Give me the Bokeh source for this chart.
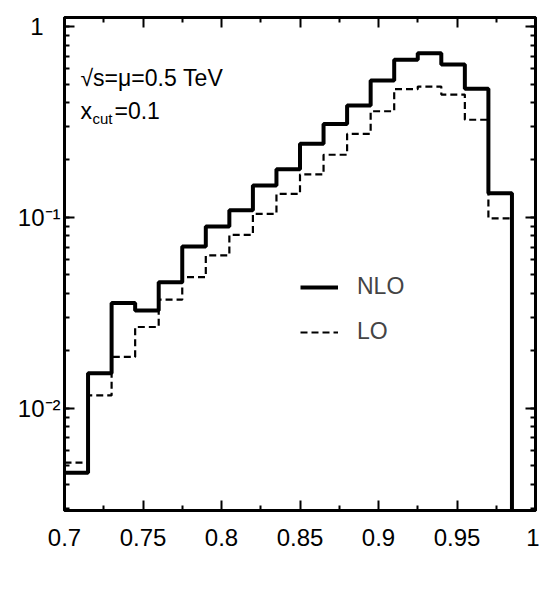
from bokeh.plotting import figure
from bokeh.models import (Range1d, FixedTicker, LogTicker, LogAxis, LinearAxis, Label,
                          Legend, LegendItem, CustomJSTickFormatter)
from bokeh.embed import file_html
from bokeh.resources import INLINE

# ---- data ----
bin_edges = [0.700, 0.715, 0.730, 0.745, 0.760, 0.775, 0.790, 0.805, 0.820, 0.835, 0.850,
             0.865, 0.880, 0.895, 0.910, 0.925, 0.940, 0.955, 0.970, 0.985, 1.000]
nlo = [0.0046, 0.0153, 0.0356, 0.0326, 0.0458, 0.0705, 0.0897, 0.109, 0.147, 0.179,
       0.243, 0.309, 0.386, 0.521, 0.670, 0.725, 0.632, 0.472, 0.134, 0.0]
lo = [0.0052, 0.0117, 0.0186, 0.0267, 0.0371, 0.0487, 0.0633, 0.0811, 0.1045, 0.133,
      0.168, 0.213, 0.274, 0.360, 0.470, 0.485, 0.440, 0.325, 0.099, 0.0]
x_ticks = [0.7, 0.75, 0.8, 0.85, 0.9, 0.95, 1.0]
x_tick_labels = ["0.7", "0.75", "0.8", "0.85", "0.9", "0.95", "1"]
x_minor = [0.725, 0.775, 0.825, 0.875, 0.925, 0.975]
X_MIN, X_MAX = 0.7, 1.0
Y_MIN, Y_MAX = 0.00292, 1.115

FONT = "Liberation Sans"
BLACK = "black"

p = figure(width=539, height=596, output_backend="svg", toolbar_location=None,
           y_axis_type="log", x_range=Range1d(X_MIN, X_MAX), y_range=Range1d(Y_MIN, Y_MAX),
           min_border_left=64, min_border_right=4, min_border_top=17, min_border_bottom=86,
           x_axis_location="below", y_axis_location="left")
p.background_fill_color = "white"
p.border_fill_color = "white"
p.grid.visible = False
p.outline_line_color = BLACK
p.outline_line_width = 3


def step_xy(edges, vals):
    floor = Y_MIN / 100.0
    ys = [v if v > 0 else floor for v in vals]
    return list(edges), ys + [ys[-1]]

xs, ys = step_xy(bin_edges, lo)
r_lo = p.step(xs, ys, mode="after", line_color=BLACK, line_width=2.2, line_dash="7 4")
xs, ys = step_xy(bin_edges, nlo)
r_nlo = p.step(xs, ys, mode="after", line_color=BLACK, line_width=4)


# ---- text annotations ----
def lab(text, x, y, size="23px"):
    l = Label(x=x, y=y, x_units="screen", y_units="screen", text=text,
              text_font=FONT, text_font_size=size, text_color=BLACK,
              text_baseline="alphabetic", text_align="left")
    p.add_layout(l)
    return l

lab("\u221as=\u03bc=0.5 TeV", 16, 433)
lab("x", 16, 400)
lab("cut", 28, 392, "15px")
lab("=0.1", 50, 400)
lab("x", 456, -78)
lab("t", 468, -88, "15px")

# ---- axes ----
xt = FixedTicker(ticks=x_ticks, minor_ticks=x_minor)
yfmt = CustomJSTickFormatter(code="""
const e = Math.round(Math.log10(tick));
if (e == 0) return "1\u2002\u2009";
const sup = {"-1": "\u207b\u00b9", "-2": "\u207b\u00b2", "-3": "\u207b\u00b3"};
return "10" + sup[String(e)];
""")
blankfmt = CustomJSTickFormatter(code="return '';")


def style(ax, labels=True):
    ax.axis_line_width = 3
    ax.axis_line_color = BLACK
    ax.major_tick_in = 10
    ax.major_tick_out = 0
    ax.minor_tick_in = 5
    ax.minor_tick_out = 0
    ax.major_tick_line_width = 2
    ax.minor_tick_line_width = 2
    ax.major_tick_line_color = BLACK
    ax.minor_tick_line_color = BLACK
    if labels:
        ax.major_label_text_font = FONT
        ax.major_label_text_font_size = "24px"
        ax.major_label_text_color = BLACK
    else:
        ax.formatter = blankfmt
        ax.major_label_text_font_size = "1px"
        ax.major_label_text_alpha = 0
        ax.major_label_standoff = 0

xa = p.xaxis[0]
xa.ticker = xt
xa.major_label_overrides = dict(zip(x_ticks, x_tick_labels))
style(xa)
xa.major_label_standoff = 18

ya = p.yaxis[0]
ya.ticker = LogTicker(num_minor_ticks=10)
ya.formatter = yfmt
style(ya)
ya.major_label_standoff = 4

top = LinearAxis(ticker=FixedTicker(ticks=x_ticks, minor_ticks=x_minor))
style(top, labels=False)
p.add_layout(top, "above")
right = LogAxis(ticker=LogTicker(num_minor_ticks=10))
style(right, labels=False)
p.add_layout(right, "right")

# ---- legend ----
legend = Legend(items=[LegendItem(label="NLO", renderers=[r_nlo]),
                       LegendItem(label="LO", renderers=[r_lo])],
                location=(236, 165), orientation="vertical",
                glyph_width=38, glyph_height=26, label_height=26, spacing=18,
                label_standoff=19, padding=0, margin=0,
                label_text_font=FONT, label_text_font_size="23px",
                border_line_alpha=0, background_fill_alpha=0)
p.add_layout(legend, "center")

open("out.html", "w").write(file_html(p, INLINE))
